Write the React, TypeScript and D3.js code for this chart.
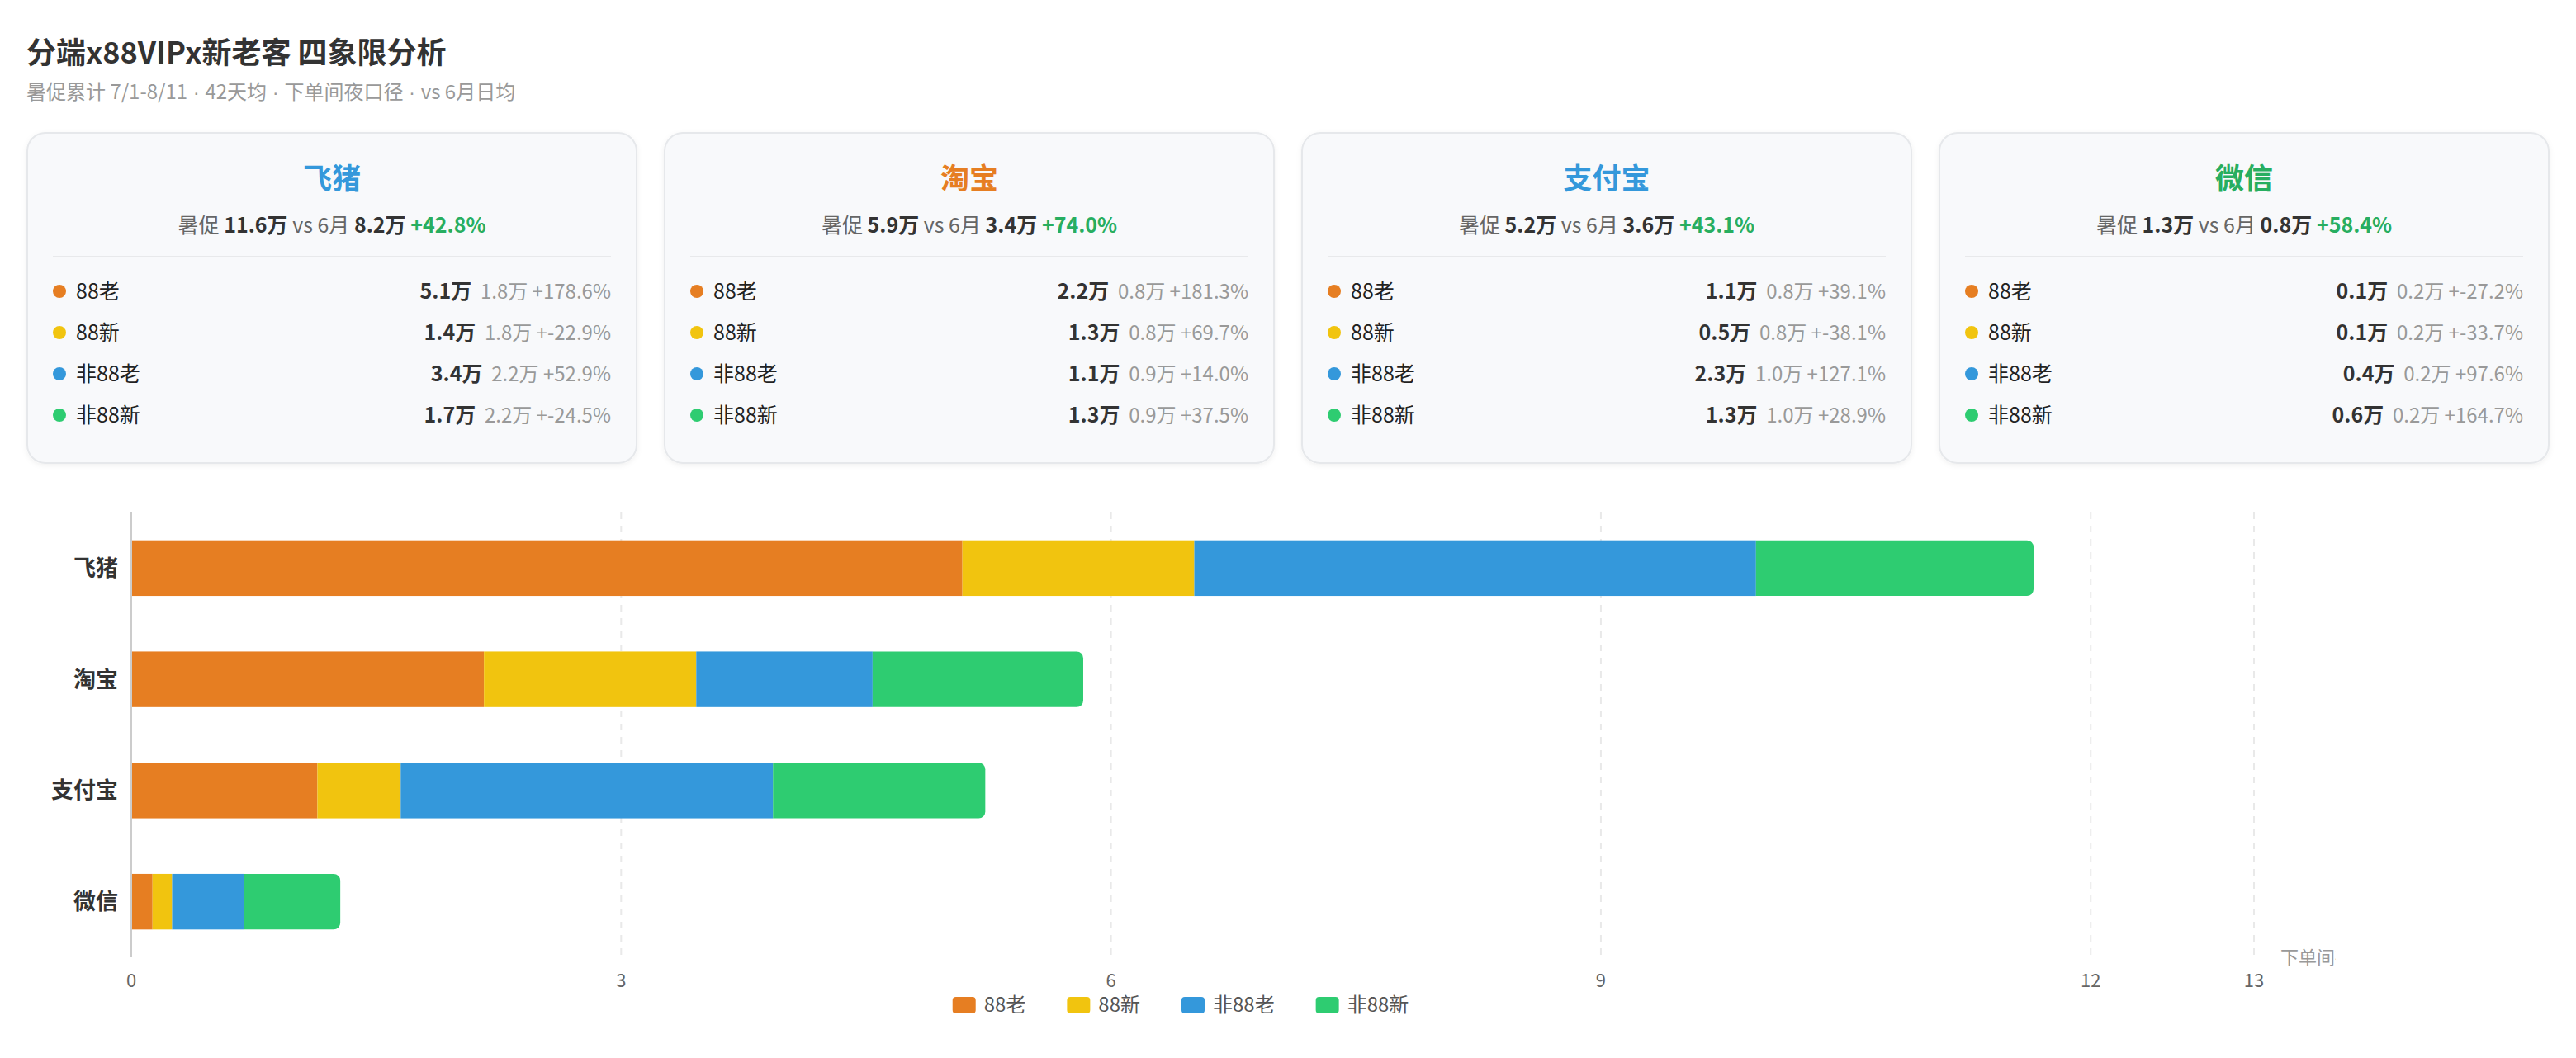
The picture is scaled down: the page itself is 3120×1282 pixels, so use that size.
import { useEffect, useRef } from 'react'
import * as d3 from 'd3'

const channels = ['飞猪', '淘宝', '支付宝', '微信']
const channelColors = ['#3498db', '#e67e22', '#3498db', '#27ae60']
const segments = ['88老', '88新', '非88老', '非88新']
const segColors = ['#e67e22', '#f1c40f', '#3498db', '#2ecc71']

// bar values, 万间夜
const old88 = [5.09, 2.16, 1.14, 0.13]
const new88 = [1.42, 1.3, 0.51, 0.12]
const oldNon88 = [3.44, 1.08, 2.28, 0.44]
const newNon88 = [1.7, 1.29, 1.3, 0.59]

// card texts
const promoTotal = ['11.6', '5.9', '5.2', '1.3']
const juneTotal = ['8.2', '3.4', '3.6', '0.8']
const totalChange = ['+42.8%', '+74.0%', '+43.1%', '+58.4%']
const promoSeg = [
  ['5.1', '1.4', '3.4', '1.7'],
  ['2.2', '1.3', '1.1', '1.3'],
  ['1.1', '0.5', '2.3', '1.3'],
  ['0.1', '0.1', '0.4', '0.6'],
]
const juneSeg = [
  ['1.8', '1.8', '2.2', '2.2'],
  ['0.8', '0.8', '0.9', '0.9'],
  ['0.8', '0.8', '1.0', '1.0'],
  ['0.2', '0.2', '0.2', '0.2'],
]
const segChange = [
  ['+178.6%', '+-22.9%', '+52.9%', '+-24.5%'],
  ['+181.3%', '+69.7%', '+14.0%', '+37.5%'],
  ['+39.1%', '+-38.1%', '+127.1%', '+28.9%'],
  ['+-27.2%', '+-33.7%', '+97.6%', '+164.7%'],
]

const subtitleParts = ['暑促累计 7/1-8/11', '42天均', '下单间夜口径', 'vs 6月日均']

const xTicks = [0, 3, 6, 9, 12, 13]
const xMax = 13

const FONT = '"Noto Sans CJK SC", "Noto Sans", sans-serif'

export default function App() {
  const svgRef = useRef<SVGSVGElement>(null)

  useEffect(() => {
    if (!svgRef.current) return
    const svg = d3.select(svgRef.current)
    svg.selectAll('*').remove()

    const W = 3120
    svg.style('font-family', FONT)

    const defs = svg.append('defs')
    const shadow = defs.append('filter').attr('id', 'cardShadow')
      .attr('x', '-5%').attr('y', '-5%').attr('width', '110%').attr('height', '115%')
    shadow.append('feDropShadow').attr('dx', 0).attr('dy', 2).attr('stdDeviation', 3)
      .attr('flood-color', '#000').attr('flood-opacity', 0.06)
    defs.append('clipPath').attr('id', 'canvasClip')
      .append('rect').attr('x', 0).attr('y', 0).attr('width', 2829).attr('height', 1282)

    // header
    svg.append('text').attr('x', 32).attr('y', 77)
      .attr('font-size', 36).attr('font-weight', 700).attr('fill', '#333')
      .text('分端x88VIPx新老客 四象限分析')
    const sub = svg.append('text').attr('x', 32).attr('y', 120)
      .attr('font-size', 24).attr('fill', '#999').style('white-space', 'pre')
    subtitleParts.forEach((s, i) => {
      if (i > 0) sub.append('tspan').attr('font-family', '"Liberation Sans", sans-serif').text(' · ')
      sub.append('tspan').text(s)
    })

    // cards
    const pad = 32
    const gap = 32
    const cardW = (W - pad * 2 - gap * 3) / 4
    const cardTop = 160
    const cardH = 402

    channels.forEach((ch, i) => {
      const g = svg.append('g').attr('transform', `translate(${pad + i * (cardW + gap)},${cardTop})`)
      g.append('rect').attr('x', 1).attr('y', 1).attr('width', cardW - 2).attr('height', cardH - 2)
        .attr('rx', 22).attr('fill', '#f8f9fb').attr('stroke', '#e6e8eb').attr('stroke-width', 2)
        .attr('filter', 'url(#cardShadow)')

      g.append('text').attr('x', cardW / 2).attr('y', 69).attr('text-anchor', 'middle')
        .attr('font-size', 35).attr('font-weight', 700).attr('fill', channelColors[i])
        .text(ch)

      const sum = g.append('text').attr('x', cardW / 2).attr('y', 122).attr('text-anchor', 'middle')
        .attr('font-size', 25).attr('fill', '#666').style('white-space', 'pre')
      sum.append('tspan').text('暑促 ')
      sum.append('tspan').attr('font-weight', 700).attr('fill', '#333').text(`${promoTotal[i]}万`)
      sum.append('tspan').text(' vs 6月 ')
      sum.append('tspan').attr('font-weight', 700).attr('fill', '#333').text(`${juneTotal[i]}万`)
      sum.append('tspan').attr('font-weight', 700).attr('fill', '#27ae60').text(` ${totalChange[i]}`)

      g.append('line').attr('x1', 32).attr('x2', cardW - 32).attr('y1', 151).attr('y2', 151)
        .attr('stroke', '#e8e9eb').attr('stroke-width', 2)

      segments.forEach((s, j) => {
        const cy = 193 + j * 50
        g.append('circle').attr('cx', 40).attr('cy', cy).attr('r', 8).attr('fill', segColors[j])
        g.append('text').attr('x', 60).attr('y', cy + 9).attr('font-size', 25).attr('fill', '#222').text(s)
        const t = g.append('text').attr('x', cardW - 32).attr('y', cy + 9).attr('text-anchor', 'end')
          .style('white-space', 'pre')
        t.append('tspan').attr('font-size', 25).attr('font-weight', 700).attr('fill', '#333')
          .text(`${promoSeg[i][j]}万`)
        t.append('tspan').attr('font-size', 24).attr('fill', '#999')
          .text(`  ${juneSeg[i][j]}万 ${segChange[i][j]}`)
      })
    })

    // bar chart
    const top = 621
    const bottom = 1160
    const x = d3.scaleLinear().domain([0, xMax]).range([159, 2730])
    const y = d3.scaleBand<string>().domain(channels).range([top, bottom])
      .paddingInner(0.5).paddingOuter(0.25)

    const chart = svg.append('g').attr('clip-path', 'url(#canvasClip)')

    chart.selectAll('line.grid')
      .data(xTicks.filter(d => d > 0))
      .enter()
      .append('line')
      .attr('class', 'grid')
      .attr('x1', d => x(d)).attr('x2', d => x(d))
      .attr('y1', top).attr('y2', bottom)
      .attr('stroke', '#e9e9e9').attr('stroke-width', 2).attr('stroke-dasharray', '8,8')

    const table = channels.map((c, i) => ({
      channel: c,
      '88老': old88[i],
      '88新': new88[i],
      '非88老': oldNon88[i],
      '非88新': newNon88[i],
    }))
    const stacked = d3.stack<any>().keys(segments)(table)

    stacked.forEach((layer, k) => {
      const last = k === stacked.length - 1
      layer.forEach((d: any) => {
        const x0 = x(d[0])
        const x1 = x(d[1])
        const yy = y(d.data.channel)!
        const h = y.bandwidth()
        if (!last) {
          chart.append('rect').attr('x', x0).attr('y', yy).attr('width', x1 - x0).attr('height', h)
            .attr('fill', segColors[k])
        } else {
          const r = 8
          const p = d3.path()
          p.moveTo(x0, yy)
          p.lineTo(x1 - r, yy)
          p.arcTo(x1, yy, x1, yy + r, r)
          p.lineTo(x1, yy + h - r)
          p.arcTo(x1, yy + h, x1 - r, yy + h, r)
          p.lineTo(x0, yy + h)
          p.closePath()
          chart.append('path').attr('d', p.toString()).attr('fill', segColors[k])
        }
      })
    })

    // y axis
    chart.append('line').attr('x1', x(0)).attr('x2', x(0)).attr('y1', top).attr('y2', bottom)
      .attr('stroke', '#ccc').attr('stroke-width', 2)
    chart.selectAll('text.ylab')
      .data(channels)
      .enter()
      .append('text')
      .attr('class', 'ylab')
      .attr('x', x(0) - 16)
      .attr('y', d => y(d)! + y.bandwidth() / 2)
      .attr('dy', '0.35em')
      .attr('text-anchor', 'end')
      .attr('font-size', 27).attr('font-weight', 700).attr('fill', '#333')
      .text(d => d)

    // x tick labels
    chart.selectAll('text.xlab')
      .data(xTicks)
      .enter()
      .append('text')
      .attr('class', 'xlab')
      .attr('x', d => x(d))
      .attr('y', bottom + 28)
      .attr('dy', '0.35em')
      .attr('text-anchor', 'middle')
      .attr('font-size', 22).attr('fill', '#666')
      .text(d => d)

    chart.append('text').attr('x', x(xMax) + 32).attr('y', bottom).attr('dy', '0.35em')
      .attr('font-size', 22).attr('fill', '#999').text('下单间夜(万)')

    // legend
    const legend = svg.append('g')
    let cursor = 0
    segments.forEach((s, k) => {
      const it = legend.append('g')
      it.append('rect').attr('x', 0).attr('y', -10).attr('width', 28).attr('height', 20)
        .attr('rx', 4).attr('fill', segColors[k])
      const t = it.append('text').attr('x', 38).attr('dy', '0.35em')
        .attr('font-size', 24).attr('fill', '#555').text(s)
      const tw = (t.node() as SVGTextElement).getComputedTextLength()
      it.attr('transform', `translate(${cursor},0)`)
      cursor += 38 + tw + 50
    })
    const totalW = cursor - 50
    legend.attr('transform', `translate(${1430 - totalW / 2},1218)`)
  }, [])

  return (
    <div style={{ width: 3120, height: 1282, background: '#fff' }}>
      <style>{'body{margin:0}'}</style>
      <svg ref={svgRef} width={3120} height={1282} style={{ display: 'block' }} />
    </div>
  )
}
